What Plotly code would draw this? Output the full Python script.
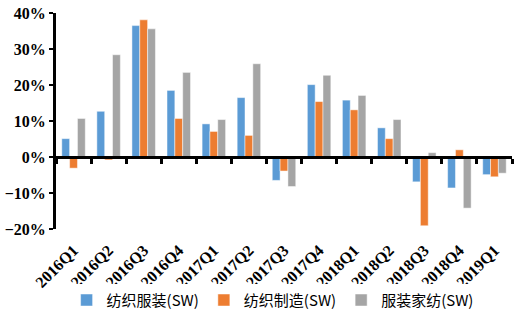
import plotly.graph_objects as go

quarters = ["2016Q1", "2016Q2", "2016Q3", "2016Q4", "2017Q1", "2017Q2", "2017Q3",
            "2017Q4", "2018Q1", "2018Q2", "2018Q3", "2018Q4", "2019Q1"]
textile_apparel = [5.1, 12.7, 36.5, 18.5, 9.2, 16.5, -6.5, 20.1, 15.8, 8.1, -6.9, -8.6, -4.9]
textile_mfg = [-3.1, -0.8, 38.1, 10.7, 7.1, 6.0, -3.9, 15.4, 13.1, 5.1, -19.1, 2.0, -5.5]
apparel_home = [10.7, 28.4, 35.6, 23.5, 10.4, 25.9, -8.2, 22.7, 17.1, 10.4, 1.2, -14.2, -4.5]

names = ["纺织服装(SW)", "纺织制造(SW)", "服装家纺(SW)"]
colors = ["#5B9BD5", "#ED7D31", "#A5A5A5"]
series = [textile_apparel, textile_mfg, apparel_home]

fig = go.Figure()
for n, c, s in zip(names, colors, series):
    fig.add_trace(go.Bar(x=quarters, y=s, name=n,
                         marker=dict(color=c, line=dict(color="rgba(255,255,255,0.6)", width=0.8))))

# helper trace for the zero-line category axis with boundary ticks
fig.add_trace(go.Scatter(x=quarters, y=[0] * len(quarters), xaxis="x2", mode="lines",
                         line=dict(width=0), hoverinfo="skip", showlegend=False))

serif = "Liberation Serif, DejaVu Serif, serif"
fig.update_layout(
    width=517, height=323,
    margin=dict(l=48, r=5, t=10, b=94),
    paper_bgcolor="white", plot_bgcolor="white",
    barmode="group", bargap=0.33, bargroupgap=0,
    font=dict(family=serif, color="black"),
    xaxis=dict(type="category", categoryarray=quarters, categoryorder="array",
               range=[-0.5, 12.5], showline=False, ticks="", showgrid=False,
               tickangle=-45, tickfont=dict(family=serif, size=16, color="black", weight="bold"),
               ticklabelstandoff=8),
    xaxis2=dict(type="category", categoryarray=quarters, categoryorder="array",
                range=[-0.5, 12.5], overlaying="x", anchor="free", position=1/3,
                side="bottom", showline=True, linecolor="black", linewidth=3,
                ticks="outside", tickson="boundaries", ticklen=5, tickwidth=3,
                tickcolor="black", showticklabels=False, showgrid=False),
    yaxis=dict(range=[-20, 40], dtick=10, ticksuffix="%", showgrid=False,
               zeroline=False, showline=True, linecolor="black", linewidth=3,
               ticks="outside", ticklen=4, tickwidth=2, tickcolor="black",
               tickfont=dict(family=serif, size=16, color="black", weight="bold")),
    legend=dict(orientation="h", x=0.475, xanchor="center", y=-0.33, yanchor="middle",
                font=dict(family="Noto Sans CJK SC", size=15, color="black"),
                itemwidth=30, traceorder="normal"),
    showlegend=True,
)

fig.write_html("out.html")
